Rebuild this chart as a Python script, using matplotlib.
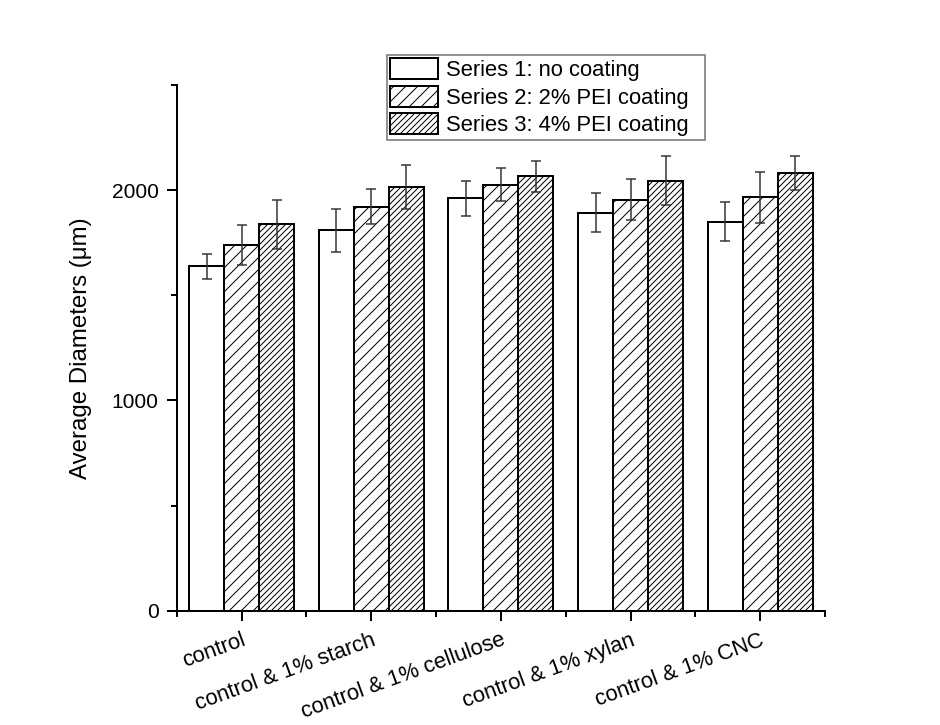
import numpy as np
import matplotlib
matplotlib.use('Agg')
import matplotlib.pyplot as plt
from matplotlib.ticker import MultipleLocator, FixedLocator

categories = ['control', 'control & 1% starch', 'control & 1% cellulose',
              'control & 1% xylan', 'control & 1% CNC']
series_names = ['Series 1: no coating', 'Series 2: 2% PEI coating',
                'Series 3: 4% PEI coating']
series1 = [1637, 1809, 1961, 1893, 1850]
err1 = [60, 101, 84, 92, 93]
series2 = [1741, 1921, 2026, 1954, 1965]
err2 = [95, 84, 80, 97, 120]
series3 = [1837, 2014, 2065, 2045, 2081]
err3 = [116, 105, 74, 115, 80]

plt.rcParams['font.family'] = ['Liberation Sans', 'DejaVu Sans']
plt.rcParams['hatch.linewidth'] = 1.0

# dpi 72 so hatch spacing matches the original density
fig = plt.figure(figsize=(940 / 72, 725 / 72), dpi=72)
ax = fig.add_axes([176.7 / 940, 1 - 610.7 / 725, (825 - 176.7) / 940, (610.7 - 85) / 725])

x = np.arange(1, len(categories) + 1)
width = 0.27
values = [series1, series2, series3]
errors = [err1, err2, err3]
hatches = ['', '//', '////']

for i, (vals, errs, h, name) in enumerate(zip(values, errors, hatches, series_names)):
    pos = x + (i - 1) * width
    ax.bar(pos, vals, width, color='white', edgecolor='black', linewidth=2,
           hatch=h, label=name, zorder=2)
    ax.errorbar(pos, vals, yerr=errs, fmt='none', ecolor='#333333',
                elinewidth=1.5, capsize=5, capthick=1.5, zorder=3)

ax.set_xlim(0.5, 5.5)
ax.set_ylim(0, 2500)
ax.set_xticks(x)
ax.set_xticklabels(categories, rotation=20, ha='right', rotation_mode='anchor')
ax.xaxis.set_minor_locator(FixedLocator(np.arange(0.5, 5.6, 1.0)))
ax.yaxis.set_major_locator(MultipleLocator(1000))
ax.yaxis.set_minor_locator(MultipleLocator(500))

for side in ['top', 'right']:
    ax.spines[side].set_visible(False)
for side in ['left', 'bottom']:
    ax.spines[side].set_linewidth(2)

ax.tick_params(axis='both', which='major', length=10, width=2, labelsize=21, pad=9)
ax.tick_params(axis='both', which='minor', length=6, width=2)
ax.tick_params(axis='x', which='major', labelsize=22)
ax.tick_params(axis='y', which='major', pad=8)

ax.set_ylabel('Average Diameters (\u03bcm)', fontsize=24, labelpad=20)

leg = ax.legend(loc='upper left',
                bbox_to_anchor=(386.7 / 940, 1 - 139 / 725, (705 - 386.7) / 940, 84 / 725),
                bbox_transform=fig.transFigure, mode='expand', fontsize=22, frameon=True,
                fancybox=False, framealpha=1, edgecolor='#707070',
                borderpad=0.15, borderaxespad=0, handlelength=2.2,
                handleheight=1.1, handletextpad=0.35, labelspacing=0.2)
leg.get_frame().set_linewidth(1.5)

fig.savefig('out.png', dpi=72, facecolor='white')
